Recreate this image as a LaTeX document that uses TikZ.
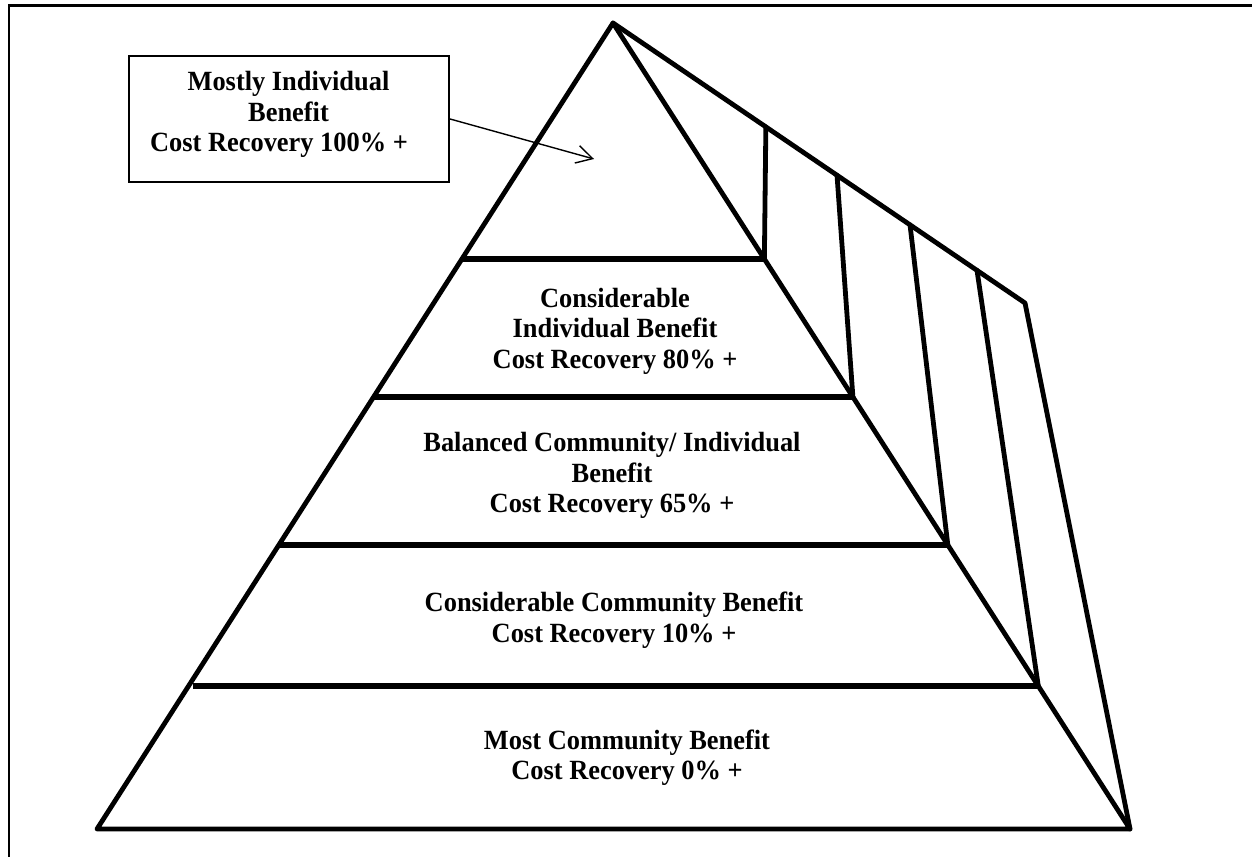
\documentclass[tikz,border=0pt]{standalone}
\usepackage{fontspec}
\setmainfont{Liberation Serif}[FakeStretch=0.95]
\usetikzlibrary{calc,arrows.meta}
\begin{document}
\begin{tikzpicture}[x=1pt,y=-1pt,
  edge/.style={line width=4.8pt, line cap=round, line join=round},
  tierline/.style={line width=5.2pt},
  frame/.style={line width=2.2pt},
  tier/.style={font=\fontsize{27.8}{30.5}\selectfont\bfseries, align=center, inner sep=0pt},
  callout/.style={draw, line width=2.2pt, minimum width=320pt, minimum height=126pt, inner sep=0pt},
  pointer/.style={line width=1.4pt, -{Straight Barb[length=16pt,width=18pt,line width=1.4pt]}}
]
\useasboundingbox (0,0) rectangle (1252,857);
\fill[white] (0,0) rectangle (1252,857);
\draw[frame] (1252,5.5) -- (9,5.5) -- (9,857);

% pyramid corners
\coordinate (A) at (613,23);
\coordinate (BL) at (97,829);
\coordinate (BR) at (1130,829);
\coordinate (C) at (1025,303);

% tier levels on front edges
\coordinate (L1) at ($(A)!0.2928!(BL)$);
\coordinate (R1) at ($(A)!0.2928!(BR)$);
\coordinate (L2) at ($(A)!0.4640!(BL)$);
\coordinate (R2) at ($(A)!0.4640!(BR)$);
\coordinate (L3) at ($(A)!0.6476!(BL)$);
\coordinate (R3) at ($(A)!0.6476!(BR)$);
\coordinate (L4) at ($(A)!0.8226!(BL)$);
\coordinate (R4) at ($(A)!0.8226!(BR)$);

% divider tops on back edge
\coordinate (D1) at ($(A)!0.371!(C)$);
\coordinate (D2) at ($(A)!0.5437!(C)$);
\coordinate (D3) at ($(A)!0.7209!(C)$);
\coordinate (D4) at ($(A)!0.8835!(C)$);

% front face
\draw[edge] (A) -- (BL) -- (BR) -- cycle;
\draw[tierline] (L1) -- (R1);
\draw[tierline] (L2) -- (R2);
\draw[tierline] (L3) -- (R3);
\draw[tierline] ([xshift=4pt]L4) -- (R4);

% side face
\draw[edge] (A) -- (C) -- (BR);
\draw[edge] (D1) -- (R1);
\draw[edge] (D2) -- (R2);
\draw[edge] (D3) -- (R3);
\draw[edge] (D4) -- (R4);

% tier texts
\node[tier] (t2) at (615,331) {Considerable\\Individual Benefit\\Cost Recovery 80\% +};
\node[tier] (t3) at (612,475.5) {Balanced Community/ Individual\\Benefit\\Cost Recovery 65\% +};
\node[tier] (t4) at (614,620) {Considerable Community Benefit\\Cost Recovery 10\% +};
\node[tier] (t5) at (627,757.5) {Most Community Benefit\\Cost Recovery 0\% +};

% callout
\node[callout] (box) at (289,119) {};
\node[tier] (boxtext) at (288.5,114.5) {Mostly Individual\\Benefit\\Cost Recovery 100\% +\hspace*{19pt}};
\coordinate (tip) at (594,159);
\draw[pointer] (box.east) -- (tip);
\end{tikzpicture}
\end{document}
